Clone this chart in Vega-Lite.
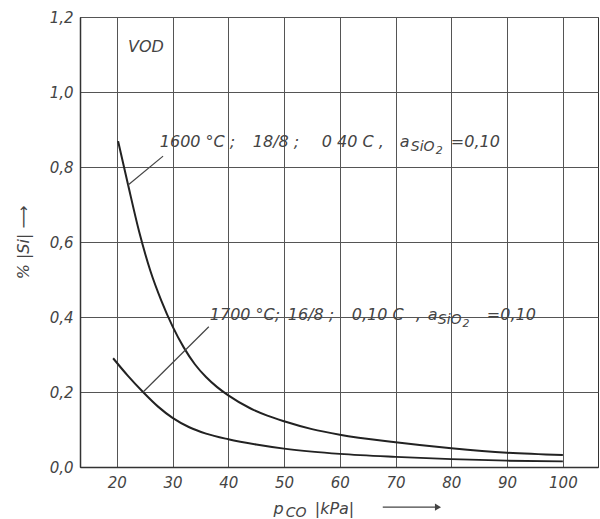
{
  "$schema": "https://vega.github.io/schema/vega-lite/v6.json",
  "width": 518,
  "height": 450,
  "autosize": "none",
  "padding": {"left": 80, "top": 17, "right": 2, "bottom": 52},
  "background": "white",
  "datasets": {
    "curves": [
      {"series": "1600", "p": 20.23, "si": 0.869},
      {"series": "1600", "p": 22, "si": 0.754},
      {"series": "1600", "p": 24, "si": 0.628},
      {"series": "1600", "p": 26, "si": 0.524},
      {"series": "1600", "p": 28, "si": 0.443},
      {"series": "1600", "p": 30, "si": 0.375},
      {"series": "1600", "p": 32, "si": 0.319},
      {"series": "1600", "p": 34, "si": 0.274},
      {"series": "1600", "p": 36, "si": 0.240},
      {"series": "1600", "p": 38, "si": 0.213},
      {"series": "1600", "p": 40, "si": 0.191},
      {"series": "1600", "p": 44, "si": 0.156},
      {"series": "1600", "p": 47, "si": 0.137},
      {"series": "1600", "p": 50, "si": 0.122},
      {"series": "1600", "p": 55, "si": 0.101},
      {"series": "1600", "p": 60, "si": 0.086},
      {"series": "1600", "p": 70, "si": 0.066},
      {"series": "1600", "p": 80, "si": 0.050},
      {"series": "1600", "p": 90, "si": 0.038},
      {"series": "1600", "p": 100, "si": 0.032},
      {"series": "1700", "p": 19.34, "si": 0.290},
      {"series": "1700", "p": 22, "si": 0.243},
      {"series": "1700", "p": 24.7, "si": 0.200},
      {"series": "1700", "p": 27.4, "si": 0.161},
      {"series": "1700", "p": 30, "si": 0.131},
      {"series": "1700", "p": 33, "si": 0.106},
      {"series": "1700", "p": 36, "si": 0.089},
      {"series": "1700", "p": 40, "si": 0.074},
      {"series": "1700", "p": 45, "si": 0.060},
      {"series": "1700", "p": 50, "si": 0.049},
      {"series": "1700", "p": 55, "si": 0.041},
      {"series": "1700", "p": 60, "si": 0.035},
      {"series": "1700", "p": 70, "si": 0.027},
      {"series": "1700", "p": 80, "si": 0.021},
      {"series": "1700", "p": 90, "si": 0.017},
      {"series": "1700", "p": 100, "si": 0.015}
    ],
    "leaders": [
      {"x": 22.03, "y": 0.752, "x2": 28.3, "y2": 0.829},
      {"x": 24.72, "y": 0.200, "x2": 36.5, "y2": 0.374}
    ],
    "labels": [
      {"x": 22.0, "y": 1.12, "text": "VOD"},
      {"x": 27.71, "y": 0.868, "text": "1600 °C ;"},
      {"x": 44.39, "y": 0.868, "text": "18/8 ;"},
      {"x": 56.76, "y": 0.868, "text": "0 40 C ,"},
      {"x": 70.75, "y": 0.868, "text": "a"},
      {"x": 79.9, "y": 0.868, "text": "=0,10"},
      {"x": 36.68, "y": 0.405, "text": "1700 °C;"},
      {"x": 50.67, "y": 0.405, "text": "16/8 ;"},
      {"x": 62.14, "y": 0.405, "text": "0,10 C"},
      {"x": 73.62, "y": 0.405, "text": ","},
      {"x": 75.77, "y": 0.405, "text": "a"},
      {"x": 86.36, "y": 0.405, "text": "=0,10"},
      {"x": 48.1, "y": -0.112, "text": "p"},
      {"x": 55.5, "y": -0.112, "text": "|kPa|"}
    ],
    "subs": [
      {"x": 72.73, "y": 0.853, "text": "SiO"},
      {"x": 77.57, "y": 0.392, "text": "SiO"},
      {"x": 50.3, "y": -0.123, "text": "CO"}
    ],
    "subsubs": [
      {"x": 77.2, "y": 0.843, "text": "2"},
      {"x": 82.0, "y": 0.382, "text": "2"}
    ],
    "arrow": [
      {"x": 67.7, "x2": 77.6, "y": -0.107}
    ]
  },
  "layer": [
    {
      "mark": {"type": "rect", "color": "white"},
      "encoding": {
        "x": {"datum": 35.6},
        "x2": {"datum": 94.8},
        "y": {"datum": 0.39},
        "y2": {"datum": 0.42}
      }
    },
    {
      "data": {"name": "curves"},
      "mark": {"type": "line", "interpolate": "monotone", "color": "#222", "strokeWidth": 2},
      "encoding": {
        "x": {
          "field": "p", "type": "quantitative",
          "scale": {"domain": [13.4, 106.3], "nice": false, "zero": false},
          "axis": {
            "values": [20, 30, 40, 50, 60, 70, 80, 90, 100],
            "title": null,
            "labelPadding": 8
          }
        },
        "y": {
          "field": "si", "type": "quantitative",
          "scale": {"domain": [0, 1.2], "nice": false},
          "axis": {
            "values": [0, 0.2, 0.4, 0.6, 0.8, 1.0, 1.2],
            "labelExpr": "replace(format(datum.value, '.1f'), '.', ',')",
            "title": "% |Si|  ⟶",
            "titlePadding": 18,
            "titleFontSize": 16,
            "labelPadding": 7
          }
        },
        "detail": {"field": "series"}
      }
    },
    {
      "data": {"name": "leaders"},
      "mark": {"type": "rule", "color": "#444", "strokeWidth": 1.2},
      "encoding": {
        "x": {"field": "x", "type": "quantitative"},
        "y": {"field": "y", "type": "quantitative"},
        "x2": {"field": "x2"},
        "y2": {"field": "y2"}
      }
    },
    {
      "data": {"name": "arrow"},
      "mark": {"type": "rule", "color": "#444", "strokeWidth": 1.2},
      "encoding": {
        "x": {"field": "x", "type": "quantitative"},
        "x2": {"field": "x2"},
        "y": {"field": "y", "type": "quantitative"}
      }
    },
    {
      "data": {"name": "arrow"},
      "mark": {"type": "point", "shape": "triangle-right", "filled": true, "color": "#444", "size": 50, "opacity": 1},
      "encoding": {
        "x": {"field": "x2", "type": "quantitative"},
        "y": {"field": "y", "type": "quantitative"}
      }
    },
    {
      "data": {"name": "labels"},
      "mark": {"type": "text", "align": "left", "baseline": "middle", "font": "DejaVu Sans", "fontStyle": "italic", "fontSize": 16, "color": "#444"},
      "encoding": {
        "x": {"field": "x", "type": "quantitative"},
        "y": {"field": "y", "type": "quantitative"},
        "text": {"field": "text"}
      }
    },
    {
      "data": {"name": "subs"},
      "mark": {"type": "text", "align": "left", "baseline": "middle", "font": "DejaVu Sans", "fontStyle": "italic", "fontSize": 14, "color": "#444"},
      "encoding": {
        "x": {"field": "x", "type": "quantitative"},
        "y": {"field": "y", "type": "quantitative"},
        "text": {"field": "text"}
      }
    },
    {
      "data": {"name": "subsubs"},
      "mark": {"type": "text", "align": "left", "baseline": "middle", "font": "DejaVu Sans", "fontStyle": "italic", "fontSize": 11, "color": "#444"},
      "encoding": {
        "x": {"field": "x", "type": "quantitative"},
        "y": {"field": "y", "type": "quantitative"},
        "text": {"field": "text"}
      }
    }
  ],
  "config": {
    "view": {"stroke": "#333", "strokeWidth": 1},
    "axis": {
      "grid": true,
      "gridColor": "#555",
      "gridOpacity": 1,
      "gridWidth": 1,
      "domainColor": "#333",
      "domainWidth": 1.5,
      "tickSize": 0,
      "labelFont": "DejaVu Sans",
      "labelFontStyle": "italic",
      "labelFontSize": 15,
      "labelColor": "#444",
      "titleFont": "DejaVu Sans",
      "titleFontStyle": "italic",
      "titleFontWeight": "normal",
      "titleFontSize": 15,
      "titleColor": "#444"
    }
  }
}
